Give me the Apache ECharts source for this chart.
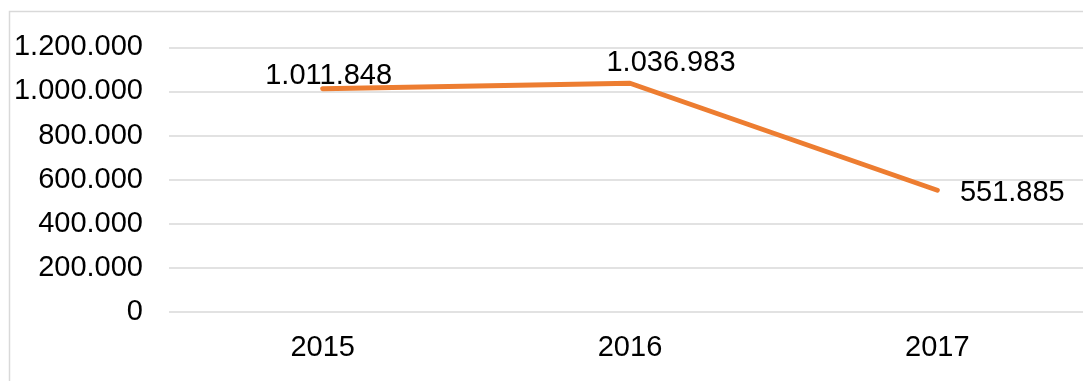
<!DOCTYPE html>
<html>
<head>
<meta charset="utf-8">
<style>
  html, body { margin: 0; padding: 0; background: #ffffff; overflow: hidden; }
  #chart { width: 1100px; height: 381px; }
</style>
<script src="https://cdn.jsdelivr.net/npm/echarts@6/dist/echarts.min.js"></script>
</head>
<body>
<div id="chart"></div>
<script>
// Yearly totals
const years = ['2015', '2016', '2017'];
const totals = [1011848, 1036983, 551885];
// Label offsets around each point (dx, dy)
const labelOffsets = [[6, -13], [41, -20], [75, 3]];

// Dotted thousands separator: 1234567 -> 1.234.567
function fmt(v) {
  return String(Math.round(v)).replace(/\B(?=(\d{3})+(?!\d))/g, '.');
}

const FONT = 'Liberation Sans, Arial, sans-serif';
const chart = echarts.init(document.getElementById('chart'), null, { renderer: 'canvas' });

chart.setOption({
  animation: false,
  backgroundColor: '#ffffff',
  graphic: [{
    type: 'rect',
    shape: { x: 9.5, y: 11.5, width: 1200, height: 500 },
    style: { fill: 'none', stroke: '#d9d9d9', lineWidth: 1.5 },
    silent: true,
    z: -10
  }],
  grid: { left: 169, top: 47.3, width: 922, height: 264.7, containLabel: false },
  xAxis: {
    type: 'category',
    data: years,
    boundaryGap: true,
    axisLine: { show: false },
    axisTick: { show: false },
    axisLabel: { color: '#000000', fontSize: 29, fontFamily: FONT, margin: 21 }
  },
  yAxis: {
    type: 'value',
    min: 0,
    max: 1200000,
    interval: 200000,
    axisLine: { show: false },
    axisTick: { show: false },
    splitLine: { lineStyle: { color: '#d9d9d9', width: 1.5 } },
    axisLabel: { color: '#000000', fontSize: 29, fontFamily: FONT, margin: 26, formatter: fmt }
  },
  series: [{
    type: 'line',
    data: totals.map((v, i) => ({
      value: v,
      label: { offset: labelOffsets[i] }
    })),
    symbol: 'circle',
    symbolSize: 1,
    showSymbol: true,
    itemStyle: { color: '#ED7D31' },
    lineStyle: { color: '#ED7D31', width: 5, cap: 'round', join: 'round' },
    label: {
      show: true,
      position: 'inside',
      align: 'center',
      verticalAlign: 'middle',
      color: '#000000',
      fontSize: 29,
      fontFamily: FONT,
      formatter: p => fmt(p.value)
    }
  }]
});
</script>
</body>
</html>
